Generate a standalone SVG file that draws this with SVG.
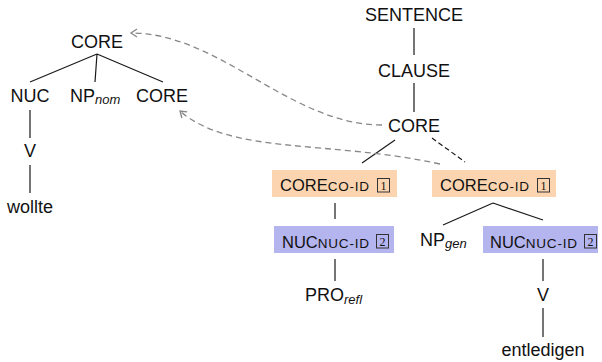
<svg xmlns="http://www.w3.org/2000/svg" width="602" height="362" viewBox="0 0 602 362">
  <style>
    text { font-family: "Liberation Sans", Arial, sans-serif; fill: #111; }
    .lbl { font-size: 18px; text-anchor: middle; }
    .sub { font-size: 13px; font-style: italic; }
    .big { font-size: 18px; }
    .boxed { font-size: 16.5px; }
    .sc { font-size: 13.5px; letter-spacing: 0.8px; }
    .idx { font-family: "Liberation Serif", "Times New Roman", serif; font-size: 12px; text-anchor: middle; }
    .idxbox { fill: none; stroke: #333; stroke-width: 1; }
    .edge { stroke: #1a1a1a; stroke-width: 1.2; fill: none; }
    .edge-dash { stroke: #1a1a1a; stroke-width: 1.2; fill: none; stroke-dasharray: 5 3; }
    .link { stroke: #888; stroke-width: 1.3; fill: none; stroke-dasharray: 6 4; }
    .core-id { fill: #fcd5b0; }
    .nuc-id { fill: #b4b4ee; }
  </style>
  <defs>
    <marker id="chev" markerUnits="userSpaceOnUse" markerWidth="12" markerHeight="12" viewBox="-8 -6 10 12" refX="0" refY="0" orient="auto">
      <path d="M -6 -4 L 0 0 L -6 4" fill="none" stroke="#888" stroke-width="1.3" stroke-dasharray="none"/>
    </marker>
  </defs>

  <!-- tree edges and co-indexing links -->
  <g id="connectors">
    <!-- left tree -->
    <path class="edge" d="M 97 54 L 30 82 M 97 54 L 95 82 M 97 54 L 163 82"/>
    <path class="edge" d="M 30 110 L 30 138 M 30 165 L 30 193"/>
    <!-- right tree spine -->
    <path class="edge" d="M 414 28 L 414 55 M 414 83 L 414 112"/>
    <path class="edge" d="M 395 140 L 362 163"/>
    <path class="edge-dash" d="M 432 138 L 465 162"/>
    <path class="edge" d="M 335 203 L 335 219 M 335 259 L 335 281"/>
    <path class="edge" d="M 493 203 L 443 225 M 493 203 L 543 220"/>
    <path class="edge" d="M 543 259 L 543 281 M 543 308 L 543 337"/>
    <!-- dashed co-indexing arrows -->
    <path class="link" marker-end="url(#chev)" d="M 382 125 C 290 125, 220 33, 131 33"/>
    <path class="link" marker-end="url(#chev)" d="M 440 164 C 330 140, 230 155, 180 111"/>
  </g>

  <!-- left tree -->
  <g id="core-top"><text class="lbl" x="97" y="48">CORE</text></g>
  <g id="nuc-left"><text class="lbl" x="30" y="102">NUC</text></g>
  <g id="np-nom"><text class="big" x="70" y="102">NP<tspan class="sub" dy="2">nom</tspan></text></g>
  <g id="core-left"><text class="lbl" x="162" y="102">CORE</text></g>
  <g id="v-left"><text class="lbl" x="30" y="157">V</text></g>
  <g id="wollte"><text class="lbl" x="30" y="213">wollte</text></g>

  <!-- right tree -->
  <g id="sentence"><text class="lbl" x="414" y="21">SENTENCE</text></g>
  <g id="clause"><text class="lbl" x="414" y="77">CLAUSE</text></g>
  <g id="core-main"><text class="lbl" x="414" y="132">CORE</text></g>

  <g id="core-coid-1">
    <rect class="core-id" x="272" y="170" width="125" height="27"/>
    <text class="boxed" x="280" y="191">CORE<tspan class="sc">CO-ID</tspan></text>
    <rect class="idxbox" x="377.5" y="178.5" width="12" height="13.5"/>
    <text class="idx" x="383.5" y="190">1</text>
  </g>
  <g id="core-coid-2">
    <rect class="core-id" x="432" y="170" width="124" height="27"/>
    <text class="boxed" x="440" y="191">CORE<tspan class="sc">CO-ID</tspan></text>
    <rect class="idxbox" x="537.5" y="178.5" width="12" height="13.5"/>
    <text class="idx" x="543.5" y="190">1</text>
  </g>

  <g id="nuc-nucid-1">
    <rect class="nuc-id" x="274" y="226" width="120" height="27"/>
    <text class="boxed" x="282" y="248">NUC<tspan class="sc">NUC-ID</tspan></text>
    <rect class="idxbox" x="376.5" y="234.5" width="12" height="13.5"/>
    <text class="idx" x="382.5" y="246">2</text>
  </g>
  <g id="np-gen"><text class="big" x="420" y="246">NP<tspan class="sub" dy="2">gen</tspan></text></g>
  <g id="nuc-nucid-2">
    <rect class="nuc-id" x="483" y="226" width="115" height="27"/>
    <text class="boxed" x="490" y="248">NUC<tspan class="sc">NUC-ID</tspan></text>
    <rect class="idxbox" x="584.5" y="234.5" width="12" height="13.5"/>
    <text class="idx" x="590.5" y="246">2</text>
  </g>

  <g id="pro-refl"><text class="big" x="305" y="301">PRO<tspan class="sub" dy="3">refl</tspan></text></g>
  <g id="v-right"><text class="lbl" x="543" y="301">V</text></g>
  <g id="entledigen"><text class="lbl" x="543" y="356">entledigen</text></g>
</svg>
